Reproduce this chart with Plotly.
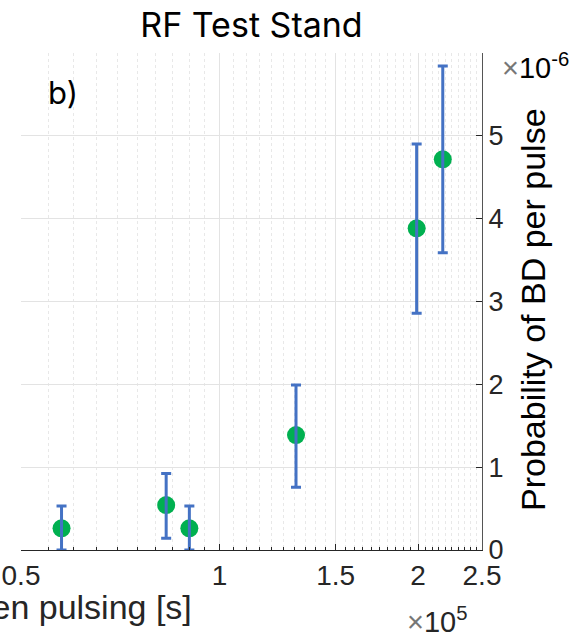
import numpy as np
import plotly.graph_objects as go

# time between pulses (x 1e5 s) and BD probability per pulse (x 1e-6)
time_e5 = [0.576, 0.830, 0.900, 1.306, 1.99, 2.18]
prob_e6 = [0.262, 0.543, 0.262, 1.388, 3.884, 4.717]
prob_hi = [0.531, 0.925, 0.531, 1.992, 4.90, 5.843]
prob_lo = [0.0, 0.141, 0.0, 0.757, 2.858, 3.589]

x_ticks = [0.5, 1, 1.5, 2, 2.5]
x_ticktext = ['0.5', '1', '1.5', '2', '2.5']
y_ticks = [0, 1, 2, 3, 4, 5, 6]
y_ticktext = ['0', '1', '2', '3', '4', '5', '']

err_plus = [h - v for h, v in zip(prob_hi, prob_e6)]
err_minus = [v - l for v, l in zip(prob_e6, prob_lo)]

# minor grid every 0.05
minor_vals = [round(v, 2) for v in np.arange(0.55, 2.5, 0.05) if round(v, 2) not in (1.0, 1.5, 2.0)]

green = '#00b050'
blue = '#4472c4'
txt = '#262626'
axis_font = 'Liberation Sans, Arial, sans-serif'

# plot box in pixels
L, R, T, B = 21, 482, 53, 550
W, H = R - L, B - T


def px(x):
    return (x - L) / W


def py(y):
    return (B - y) / H


fig = go.Figure()
fig.add_trace(go.Scatter(x=time_e5, y=prob_e6, mode='markers',
                         marker=dict(size=18, color=green), showlegend=False))
# error bars drawn on top of the markers
fig.add_trace(go.Scatter(x=time_e5, y=prob_e6, mode='markers',
                         marker=dict(size=1, color='rgba(0,0,0,0)'),
                         error_y=dict(type='data', symmetric=False, array=err_plus,
                                      arrayminus=err_minus, color=blue,
                                      thickness=3, width=5),
                         showlegend=False))

fig.update_layout(
    width=580, height=638,
    margin=dict(l=L, r=580 - R, t=T, b=638 - B, autoexpand=False),
    plot_bgcolor='white', paper_bgcolor='white',
    title=dict(text='RF Test Stand', x=(L + R) / 2 / 580, xanchor='center',
               y=1 - 25 / 638, yanchor='middle',
               font=dict(family='Inter, sans-serif', size=34, color='black')),
    xaxis=dict(type='log', range=[np.log10(0.5), np.log10(2.5)], automargin=False,
               tickvals=x_ticks, ticktext=x_ticktext,
               tickfont=dict(family=axis_font, size=28, color=txt),
               ticks='inside', ticklen=6, tickcolor=txt,
               showline=True, linecolor=txt, linewidth=1,
               showgrid=True, gridcolor='#e3e3e3', gridwidth=1,
               minor=dict(tickvals=minor_vals, ticks='inside', ticklen=3, tickcolor=txt,
                          showgrid=True, gridcolor='#e8e8e8', griddash='dot', gridwidth=1),
               zeroline=False),
    yaxis=dict(side='right', range=[0, 6], automargin=False,
               tickvals=y_ticks, ticktext=y_ticktext,
               tickfont=dict(family=axis_font, size=27, color=txt),
               ticks='inside', ticklen=6, tickcolor=txt,
               showline=True, linecolor='#555555', linewidth=1,
               showgrid=True, gridcolor='#e3e3e3', gridwidth=1,
               zeroline=False),
    annotations=[
        dict(text='b)', xref='paper', yref='paper', x=px(46), y=py(93),
             xanchor='left', yanchor='middle', showarrow=False,
             font=dict(family='Inter, sans-serif', size=31, color='black')),
        dict(text='Probability of BD per pulse', xref='paper', yref='paper',
             x=px(533), y=py(310), textangle=-90,
             xanchor='center', yanchor='middle', showarrow=False,
             font=dict(family=axis_font, size=34, color='black')),
        dict(text='Time between pulsing [s]', xref='paper', yref='paper',
             x=px(194), y=py(607),
             xanchor='right', yanchor='middle', showarrow=False,
             font=dict(family=axis_font, size=34, color=txt)),
        dict(text="<span style='color:#777'>×</span>10<sup>-6</sup>", xref='paper', yref='paper',
             x=px(500), y=py(66),
             xanchor='left', yanchor='middle', showarrow=False,
             font=dict(family=axis_font, size=29, color='black')),
        dict(text="<span style='color:#777'>×</span>10<sup>5</sup>", xref='paper', yref='paper',
             x=px(405), y=py(620),
             xanchor='left', yanchor='middle', showarrow=False,
             font=dict(family=axis_font, size=29, color=txt)),
    ],
)

# drop the default page margin so the figure sits at the window's corner
fig.write_html("out.html", config={'displayModeBar': False},
               post_script="document.body.style.margin='0';")
